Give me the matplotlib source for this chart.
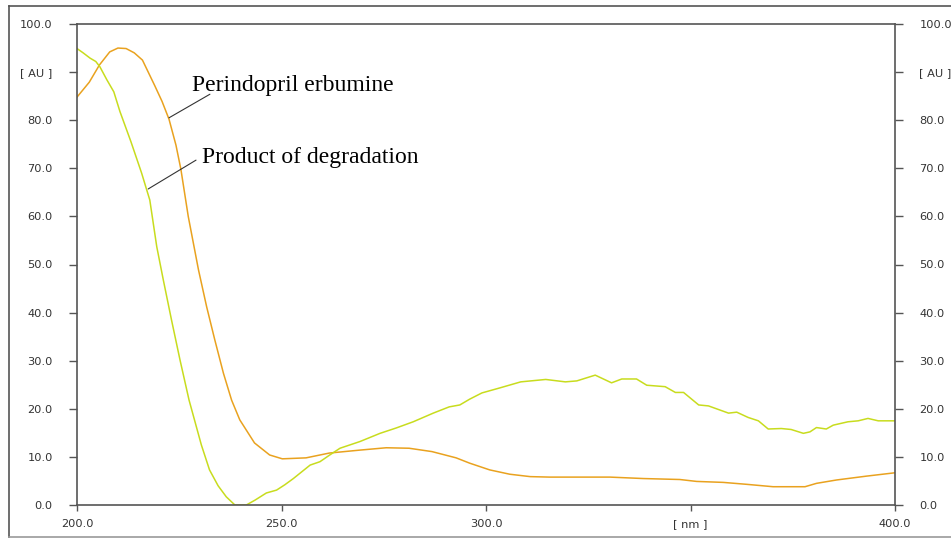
from matplotlib import pyplot as plt
from matplotlib.lines import Line2D

# spectrum of perindopril erbumine (orange)
peri_nm = [200, 203, 205.5, 208, 210, 212, 214, 216, 219, 220.8, 222.5, 224.2, 225.4,
           227.2, 229.7, 231.7, 233.7, 235.8, 237.8, 239.8, 243.4, 247.1, 250.2,
           256, 261.7, 269, 275.6, 281.2, 286.8, 292.7, 296, 300.9, 305.8, 310.8,
           315.6, 330.3, 338.5, 347.4, 351.5, 358, 363.7, 370.2, 378, 380.8,
           385.7, 393, 400]
peri_au = [84.8, 87.9, 91.5, 94.2, 95.0, 94.9, 94.0, 92.5, 87.2, 83.9, 80.2, 74.8, 69.8,
           60.0, 48.9, 41.2, 34.3, 27.4, 21.8, 17.7, 12.9, 10.4, 9.6,
           9.8, 10.8, 11.4, 11.9, 11.8, 11.1, 9.8, 8.7, 7.3, 6.4, 5.9,
           5.8, 5.8, 5.5, 5.3, 4.9, 4.7, 4.3, 3.8, 3.8, 4.5,
           5.2, 6.0, 6.7]

# spectrum of the degradation product (yellow-green)
deg_nm = [200, 201.5, 203.2, 204.6, 205.6, 207.3, 209, 210.5, 213.2, 215.8, 217.8,
          219.5, 221.1, 223.1, 225.2, 227.4, 230.4, 232.4, 234.5, 236.5, 238.6,
          241.4, 243.5, 246.3, 248.8, 250.8, 252.9, 257, 259.4, 261.8, 264.3,
          269.2, 274.1, 278, 282.2, 287.1, 291, 293.6, 296, 299, 303.2, 308.5,
          314.6, 319.4, 322.2, 326.7, 330.7, 333.2, 336.8, 339.3, 343.8, 346.3,
          348.3, 352, 354.4, 359.3, 361.3, 364.1, 366.6, 369, 372.2, 374.6,
          377.6, 379.2, 380.8, 383.2, 384.9, 388.5, 391, 393.4, 395.9, 400]
deg_au = [94.9, 94.0, 92.9, 92.2, 91.1, 88.4, 85.9, 81.8, 75.5, 69.0, 63.4,
          53.7, 46.8, 38.5, 30.1, 21.8, 12.5, 7.3, 4.0, 1.7, 0.0,
          0.0, 1.0, 2.5, 3.1, 4.2, 5.5, 8.3, 9.0, 10.4, 11.8,
          13.2, 14.9, 16.0, 17.3, 19.1, 20.4, 20.8, 22.0, 23.3, 24.3, 25.6,
          26.1, 25.6, 25.8, 27.0, 25.4, 26.2, 26.2, 24.9, 24.6, 23.4,
          23.4, 20.8, 20.6, 19.1, 19.3, 18.2, 17.5, 15.8, 15.9, 15.7,
          14.9, 15.2, 16.1, 15.8, 16.6, 17.3, 17.5, 18.0, 17.5, 17.5]

xticks = [200, 250, 300, 350, 400]
xticklabels = ['200.0', '250.0', '300.0', '[ nm ]', '400.0']
yticks = [0, 10, 20, 30, 40, 50, 60, 70, 80, 90, 100]
yticklabels = ['0.0', '10.0', '20.0', '30.0', '40.0', '50.0', '60.0', '70.0',
               '80.0', '[ AU ]', '100.0']

W, H = 951, 538
fig = plt.figure(figsize=(W / 100, H / 100), dpi=100)
ax = fig.add_axes([77 / W, (H - 505) / H, (895 - 77) / W, (505 - 24) / H])

ax.plot(peri_nm, peri_au, color='#E9A21F', lw=1.1)
ax.plot(deg_nm, deg_au, color='#C8DC1E', lw=1.1)

ax.set_xlim(200, 400)
ax.set_ylim(0, 100)
for s in ax.spines.values():
    s.set_color('#555555')
    s.set_linewidth(1.2)

ax.set_xticks(xticks)
ax.set_xticklabels(xticklabels)
ax.set_yticks(yticks)
ax.set_yticklabels(yticklabels)
ax.tick_params(axis='y', which='both', direction='out', length=5.5, width=1,
               color='#555555', labelsize=8.2, labelcolor='#333333', pad=12,
               left=True, right=True, labelleft=True, labelright=True)
ax.tick_params(axis='x', direction='out', length=4, width=1, color='#555555',
               labelsize=8.2, labelcolor='#333333', pad=6)

# labels with their leader lines
ax.annotate('', xy=(222.5, 80.5), xytext=(232.5, 85.4),
            arrowprops=dict(arrowstyle='-', color='#333333', lw=0.8, shrinkA=0, shrinkB=0))
ax.text(228.1, 87.2, 'Perindopril erbumine', fontsize=17, family='Liberation Serif',
        va='center', ha='left')
ax.annotate('', xy=(217.4, 65.7), xytext=(229.1, 71.7),
            arrowprops=dict(arrowstyle='-', color='#333333', lw=0.8, shrinkA=0, shrinkB=0))
ax.text(230.6, 72.2, 'Product of degradation', fontsize=17, family='Liberation Serif',
        va='center', ha='left')

# outer frame of the screenshot
fig.add_artist(Line2D([8.5 / W, 8.5 / W], [1 - 5.5 / H, 1 - 536.5 / H], color='#555555', lw=1.2))
fig.add_artist(Line2D([8.5 / W, 1], [1 - 5.5 / H, 1 - 5.5 / H], color='#555555', lw=1.2))
fig.add_artist(Line2D([8.5 / W, 1], [1 - 536.5 / H, 1 - 536.5 / H], color='#999999', lw=1.2))

fig.savefig('out.png', dpi=100)
